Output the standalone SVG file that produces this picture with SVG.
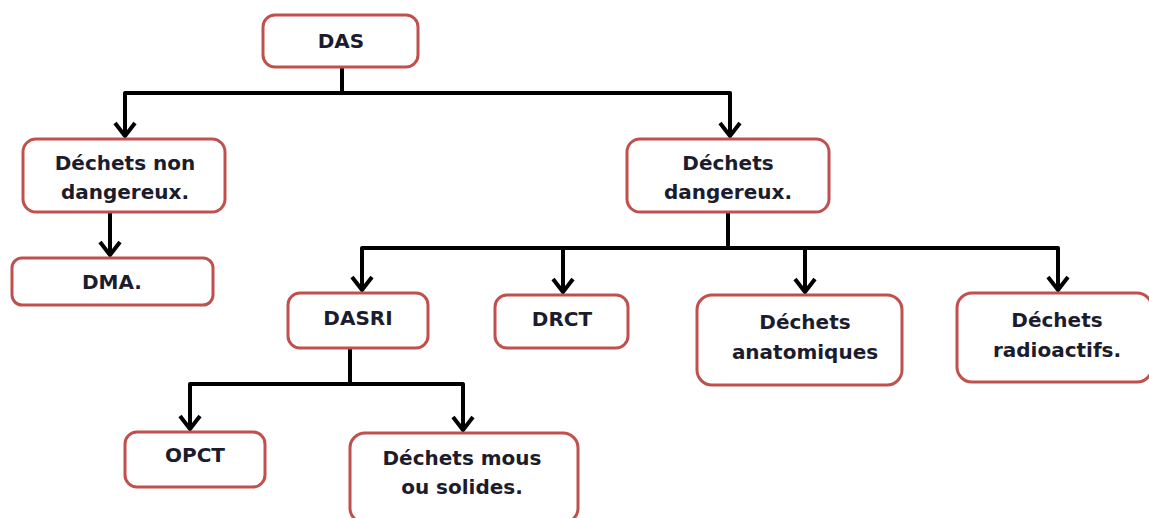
<svg xmlns="http://www.w3.org/2000/svg" width="1149" height="518" viewBox="0 0 1149 518">
<style>
.box{fill:#fff;stroke:#c0504d;stroke-width:3}
.t{font-family:"DejaVu Sans","Liberation Sans",sans-serif;font-weight:bold;font-size:20px;fill:#1c1c2c;text-anchor:middle}
.c{fill:none;stroke:#000;stroke-width:4;stroke-linejoin:round;marker-end:url(#ah)}
</style>
<defs>
<marker id="ah" markerUnits="userSpaceOnUse" orient="auto" refX="0" refY="0" markerWidth="30" markerHeight="30" viewBox="-20 -15 30 30" overflow="visible">
<path d="M-13,-10 L0,0 L-13,10" fill="none" stroke="#000" stroke-width="4" stroke-linejoin="miter"/>
</marker>
</defs>
<rect width="1149" height="518" fill="#fff"/>
<g id="connectors">
<path class="c" d="M342 67 V93 H125 V136"/>
<path class="c" d="M342 93 H730 V136"/>
<path class="c" d="M110 212 V255"/>
<path class="c" d="M728 212 V248 H362 V290"/>
<path class="c" d="M728 248 H1058 V290"/>
<path class="c" d="M563 248 V292"/>
<path class="c" d="M805 248 V292"/>
<path class="c" d="M350 348 V384 H190 V429"/>
<path class="c" d="M350 384 H463 V430"/>
</g>
<g id="das"><rect class="box" x="263" y="15" width="155" height="52" rx="12"/><text class="t" x="341" y="48">DAS</text></g>
<g id="non-dangereux"><rect class="box" x="23" y="139" width="202" height="73" rx="13"/><text class="t" x="125" y="170">Déchets non</text><text class="t" x="125" y="199">dangereux.</text></g>
<g id="dma"><rect class="box" x="12" y="258" width="201" height="47" rx="10"/><text class="t" x="112" y="289">DMA.</text></g>
<g id="dangereux"><rect class="box" x="627" y="139" width="202" height="73" rx="13"/><text class="t" x="728" y="170">Déchets</text><text class="t" x="728" y="199">dangereux.</text></g>
<g id="dasri"><rect class="box" x="288" y="293" width="140" height="55" rx="12"/><text class="t" x="358" y="325">DASRI</text></g>
<g id="drct"><rect class="box" x="495" y="295" width="133" height="53" rx="12"/><text class="t" x="562" y="326">DRCT</text></g>
<g id="anatomiques"><rect class="box" x="697" y="295" width="205" height="90" rx="15"/><text class="t" x="805" y="329">Déchets</text><text class="t" x="805" y="359">anatomiques</text></g>
<g id="radioactifs"><rect class="box" x="957" y="293" width="195" height="89" rx="15"/><text class="t" x="1057" y="327">Déchets</text><text class="t" x="1057" y="357">radioactifs.</text></g>
<g id="opct"><rect class="box" x="125" y="432" width="140" height="55" rx="12"/><text class="t" x="195" y="462">OPCT</text></g>
<g id="mous"><rect class="box" x="350" y="433" width="228" height="90" rx="15"/><text class="t" x="462" y="465">Déchets mous</text><text class="t" x="462" y="494">ou solides.</text></g>
</svg>
